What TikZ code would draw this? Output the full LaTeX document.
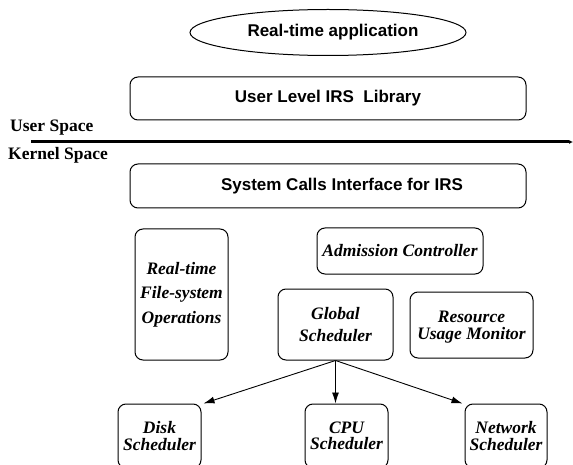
\documentclass[tikz,border=0pt]{standalone}
\usepackage{fontspec}
\setmainfont{Liberation Serif}
\setsansfont{Liberation Sans}
\usetikzlibrary{shapes.geometric,arrows.meta}
\tikzset{
  rbox/.style={draw, line width=1pt, rounded corners=8pt, inner sep=0pt, align=center},
  sanslbl/.style={font=\sffamily\bfseries\fontsize{17}{20}\selectfont},
  itlbl/.style={font=\rmfamily\bfseries\itshape\fontsize{17.5}{#1}\selectfont},
  itlbl/.default=20,
  sidelbl/.style={font=\rmfamily\bfseries\fontsize{17.5}{20}\selectfont, inner sep=0pt},
  arr/.style={line width=0.9pt, -{Latex[length=11pt,width=7pt]}},
}
\begin{document}
\begin{tikzpicture}[x=1pt,y=-1pt]
\useasboundingbox (0,0) rectangle (573,465);
\clip (0,0) rectangle (573,465);
% ellipse
\node[draw, ellipse, line width=1pt, minimum width=276pt, minimum height=46pt, inner sep=0pt, sanslbl] (app) at (328,32.5) {\hspace*{10pt}Real-time application};
% user level library
\node[rbox, sanslbl, minimum width=396pt, minimum height=43pt] (ul) at (328,98.5) {User Level IRS\ \ Library};
% separator
\coordinate (sepA) at (31,142);
\coordinate (sepB) at (573,142);
\draw[line width=3pt, -{Latex[length=4pt,width=4pt]}] (sepA) -- (sepB);
\node[sidelbl, anchor=base west] (us) at (10,132) {User Space};
\node[sidelbl, anchor=base west] (ks) at (8,160) {Kernel Space};
% system calls
\node[rbox, sanslbl, minimum width=396pt, minimum height=44pt] (sys) at (328,186) {\hspace*{28pt}System Calls Interface for IRS};
% kernel boxes
\node[rbox, itlbl=24.5, minimum width=93pt, minimum height=131pt] (fs) at (181.5,294.5) {Real-time\\File-system\\Operations};
\node[rbox, itlbl, minimum width=166pt, minimum height=46pt] (adm) at (400,251) {Admission Controller};
\node[rbox, itlbl=22, minimum width=115pt, minimum height=71pt] (glob) at (335.5,324.5) {Global\\Scheduler};
\node[rbox, itlbl=17, text depth=-3pt, minimum width=123pt, minimum height=66pt] (res) at (471.5,325) {Resource\\Usage Monitor};
\node[rbox, itlbl=16.5, minimum width=83pt, minimum height=64pt] (disk) at (159.5,436) {Disk\\Scheduler};
\node[rbox, itlbl=16.5, minimum width=83pt, minimum height=64pt] (cpu) at (346.5,436) {CPU\\Scheduler};
\node[rbox, itlbl=16.5, minimum width=82pt, minimum height=64pt] (net) at (506,436) {Network\\Scheduler};
% arrows
\draw[arr] (glob.south) -- ([xshift=2pt]disk.north east);
\draw[arr] (glob.south) -- (glob.south |- cpu.north);
\draw[arr] (glob.south) -- ([xshift=-2pt]net.north west);
\end{tikzpicture}
\end{document}
